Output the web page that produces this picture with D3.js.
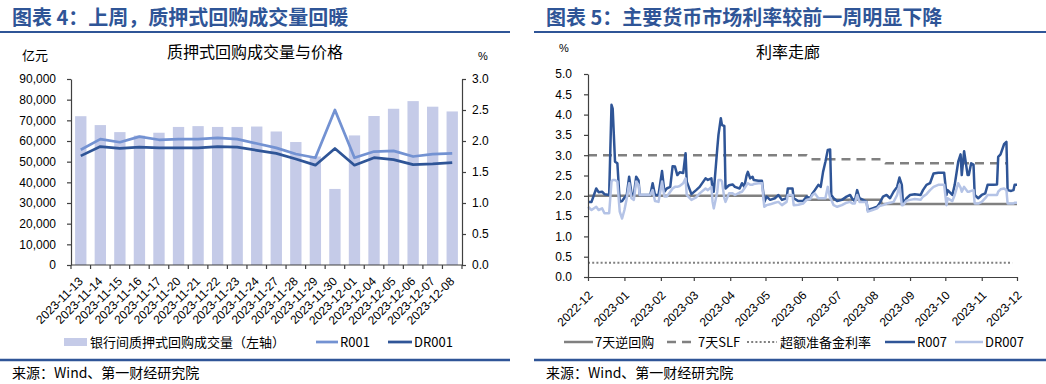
<!DOCTYPE html>
<html>
<head>
<meta charset="utf-8">
<title>质押式回购 / 利率走廊</title>
<script src="https://cdn.jsdelivr.net/npm/d3@7"></script>
<style>
	body { margin: 0; background: #fff; }
	text { font-family: "Liberation Sans", Arial, "Noto Sans CJK SC", sans-serif; fill: #000; }
	.cjk { font-family: "Noto Sans CJK SC", sans-serif; }
	.title { font-family: "Noto Sans CJK SC", sans-serif; font-weight: 700; font-size: 20px; fill: #2F5597; }
	.axis path, .axis line { stroke: #404040; stroke-width: 1.2; }
	.axis text { font-size: 12px; }
</style>
</head>
<body>
<div id="chartDiv"></div>
<script>
// ---- left chart: pledged repo volume & price ----
var volDates = ["2023-11-13", "2023-11-14", "2023-11-15", "2023-11-16", "2023-11-17",
	"2023-11-20", "2023-11-21", "2023-11-22", "2023-11-23", "2023-11-24",
	"2023-11-27", "2023-11-28", "2023-11-29", "2023-11-30", "2023-12-01",
	"2023-12-04", "2023-12-05", "2023-12-06", "2023-12-07", "2023-12-08"];
var volValues = [72000, 67700, 64300, 62600, 64000, 66800, 67200, 66800, 66800, 67000,
	64600, 59500, 52500, 36800, 62700, 72100, 75600, 79300, 76600, 74300];
var r001Values = [1.86, 2.03, 1.98, 2.07, 2.02, 2.03, 2.03, 2.05, 2.03, 1.96,
	1.89, 1.79, 1.73, 2.50, 1.73, 1.83, 1.84, 1.75, 1.79, 1.80];
var dr001Values = [1.76, 1.91, 1.88, 1.90, 1.89, 1.89, 1.89, 1.91, 1.90, 1.85,
	1.80, 1.71, 1.61, 1.88, 1.61, 1.73, 1.70, 1.62, 1.63, 1.65];
var volTicks = [0, 10000, 20000, 30000, 40000, 50000, 60000, 70000, 80000, 90000];
var priceTicks = [0, 0.5, 1.0, 1.5, 2.0, 2.5, 3.0];

// ---- right chart: rate corridor ----
var rateDates = [
	"2022-12-08", "2022-12-11", "2022-12-15", "2022-12-17", "2022-12-20", "2022-12-22", "2022-12-26", "2022-12-28", "2022-12-29", "2022-12-31",
	"2023-01-02", "2023-01-04", "2023-01-06", "2023-01-08", "2023-01-10", "2023-01-12", "2023-01-14", "2023-01-16", "2023-01-18", "2023-01-20",
	"2023-01-21", "2023-01-30", "2023-02-01", "2023-02-03", "2023-02-06", "2023-02-09", "2023-02-11", "2023-02-13", "2023-02-16", "2023-02-18",
	"2023-02-20", "2023-02-22", "2023-02-24", "2023-02-27", "2023-03-01", "2023-03-02", "2023-03-06", "2023-03-10", "2023-03-13", "2023-03-18",
	"2023-03-20", "2023-03-23", "2023-03-24", "2023-03-25", "2023-03-28", "2023-03-29", "2023-03-31", "2023-04-01", "2023-04-03", "2023-04-04",
	"2023-04-07", "2023-04-10", "2023-04-12", "2023-04-16", "2023-04-18", "2023-04-20", "2023-04-22", "2023-04-23", "2023-04-25", "2023-04-27",
	"2023-04-28", "2023-05-02", "2023-05-05", "2023-05-07", "2023-05-09", "2023-05-12", "2023-05-16", "2023-05-19", "2023-05-22", "2023-05-26",
	"2023-05-27", "2023-05-31", "2023-06-01", "2023-06-05", "2023-06-09", "2023-06-12", "2023-06-15", "2023-06-17", "2023-06-19", "2023-06-22",
	"2023-06-24", "2023-06-26", "2023-06-28", "2023-06-30", "2023-07-02", "2023-07-03", "2023-07-05", "2023-07-08", "2023-07-12", "2023-07-16",
	"2023-07-19", "2023-07-21", "2023-07-23", "2023-07-25", "2023-07-27", "2023-07-30", "2023-08-02", "2023-08-03", "2023-08-07", "2023-08-11",
	"2023-08-13", "2023-08-16", "2023-08-19", "2023-08-22", "2023-08-25", "2023-08-28", "2023-08-30", "2023-09-01", "2023-09-02", "2023-09-05",
	"2023-09-08", "2023-09-12", "2023-09-17", "2023-09-19", "2023-09-22", "2023-09-25", "2023-09-28", "2023-10-02", "2023-10-07", "2023-10-09",
	"2023-10-10", "2023-10-14", "2023-10-16", "2023-10-19", "2023-10-21", "2023-10-22", "2023-10-24", "2023-10-27", "2023-10-28", "2023-10-30",
	"2023-11-01", "2023-11-02", "2023-11-05", "2023-11-08", "2023-11-11", "2023-11-13", "2023-11-18", "2023-11-21", "2023-11-22", "2023-11-24",
	"2023-11-27", "2023-11-29", "2023-11-30", "2023-12-03", "2023-12-05", "2023-12-06", "2023-12-08"];
var r007Values = [
	1.85, 1.85, 2.18, 2.09, 2.10, 2.04, 2.02, 4.24, 4.15, 2.84,
	2.80, 1.85, 1.87, 1.95, 2.02, 2.47, 2.06, 2.02, 2.47, 2.38,
	2.02, 2.02, 2.31, 2.02, 2.02, 2.61, 2.10, 2.18, 2.22, 2.73,
	2.72, 2.51, 2.58, 2.56, 3.05, 2.35, 2.04, 2.14, 2.22, 2.43,
	2.39, 2.43, 2.14, 2.10, 3.17, 3.50, 3.91, 3.74, 3.72, 2.18,
	2.26, 2.28, 2.22, 2.18, 2.31, 2.22, 2.51, 2.59, 2.43, 2.47,
	2.39, 2.37, 2.37, 1.85, 1.98, 1.90, 1.94, 2.02, 1.90, 1.94,
	2.18, 2.18, 1.94, 1.87, 1.87, 1.98, 1.94, 2.06, 2.14, 2.27,
	2.22, 2.59, 2.84, 3.13, 3.14, 2.02, 1.94, 1.87, 1.90, 1.98,
	2.02, 1.92, 1.87, 2.14, 1.94, 1.90, 1.85, 1.65, 1.69, 1.73,
	1.81, 1.98, 2.02, 1.94, 2.10, 2.22, 2.45, 2.27, 1.81, 1.94,
	2.02, 2.04, 2.02, 2.14, 2.27, 2.31, 2.55, 2.57, 2.57, 2.02,
	2.14, 2.02, 2.27, 2.84, 3.02, 2.51, 3.10, 2.51, 2.51, 2.80,
	2.77, 2.02, 1.94, 2.02, 2.06, 2.27, 2.27, 2.28, 2.96, 3.02,
	3.27, 3.33, 2.14, 2.12, 2.14, 2.27, 2.27];
var dr007Values = [
	1.73, 1.65, 1.73, 1.65, 1.69, 1.57, 1.57, 2.35, 2.39, 2.39,
	2.35, 1.61, 1.44, 1.65, 1.94, 2.31, 1.94, 1.90, 2.35, 2.27,
	2.02, 2.02, 2.14, 1.87, 1.85, 2.35, 1.98, 1.98, 2.10, 2.18,
	2.22, 2.22, 2.24, 2.31, 2.43, 2.02, 1.90, 1.96, 2.06, 2.18,
	2.14, 2.22, 1.85, 1.69, 2.10, 2.39, 2.39, 2.35, 1.94, 1.85,
	2.06, 2.06, 2.02, 2.08, 2.10, 2.18, 2.27, 2.31, 2.27, 2.27,
	2.29, 2.31, 2.31, 1.73, 1.77, 1.79, 1.83, 1.85, 1.77, 1.85,
	2.02, 2.02, 1.77, 1.78, 1.81, 1.90, 1.92, 2.02, 2.06, 1.94,
	1.94, 1.94, 1.94, 2.22, 1.94, 1.90, 1.77, 1.73, 1.77, 1.83,
	1.85, 1.81, 1.81, 2.02, 1.85, 1.85, 1.85, 1.61, 1.65, 1.69,
	1.75, 1.77, 1.81, 1.83, 1.85, 2.02, 2.27, 1.77, 1.77, 1.88,
	1.90, 1.92, 1.90, 1.98, 2.04, 2.14, 2.22, 2.27, 2.27, 1.77,
	1.94, 1.87, 2.02, 2.31, 2.20, 2.10, 2.22, 2.10, 2.10, 2.12,
	2.14, 1.81, 1.81, 1.85, 1.94, 2.02, 2.02, 2.02, 2.10, 2.16,
	2.18, 2.14, 1.81, 1.81, 1.81, 1.83, 1.83];
var revRepoDates = ["2022-12-08", "2023-06-12", "2023-06-13", "2023-08-14", "2023-08-15", "2023-12-08"];
var revRepoValues = [2.0, 2.0, 1.9, 1.9, 1.8, 1.8];
var slfDates = ["2022-12-08", "2023-06-12", "2023-06-16", "2023-08-14", "2023-08-18", "2023-11-29"];
var slfValues = [3.0, 3.0, 2.9, 2.9, 2.8, 2.8];
var excessDates = ["2022-12-08", "2023-12-04"];
var excessValues = [0.35, 0.35];
var rateTicks = [0, 0.5, 1.0, 1.5, 2.0, 2.5, 3.0, 3.5, 4.0, 4.5, 5.0];

var colBar = "#C5CBE8";
var colR001 = "#7392D2";
var colDark = "#2F5597";
var colLight = "#B4C3E6";
var colGray = "#808080";
var colTitle = "#2F5597";

var svg;
var parseDate = d3.timeParse("%Y-%m-%d");

function init() {
	svg = d3.select("#chartDiv").append("svg")
		.attr("width", 1046)
		.attr("height", 384)
	;
	svg.append("rect").attr("width", 1046).attr("height", 384).attr("fill", "#fff");

	drawFrame(0, 510, "图表 4：上周，质押式回购成交量回暖", 12);
	drawFrame(534, 1046, "图表 5：主要货币市场利率较前一周明显下降", 546);

	drawVolumeChart();
	drawRateChart();
}

// title, two blue rules and source line
function drawFrame(x0, x1, title, tx) {
	svg.append("text")
		.attr("class", "title")
		.attr("x", tx)
		.attr("y", 25)
		.text(title)
	;
	svg.append("line")
		.attr("x1", x0).attr("x2", x1)
		.attr("y1", 32).attr("y2", 32)
		.attr("stroke", colTitle).attr("stroke-width", 2)
	;
	svg.append("line")
		.attr("x1", x0).attr("x2", x1)
		.attr("y1", 360).attr("y2", 360)
		.attr("stroke", colTitle).attr("stroke-width", 2.5)
	;
	svg.append("text")
		.attr("class", "cjk")
		.attr("x", tx)
		.attr("y", 378)
		.style("font-size", "14px")
		.text("来源：Wind、第一财经研究院")
	;
}

function drawVolumeChart() {
	var left = 71, right = 462, top = 79, bottom = 265;

	var x = d3.scaleBand()
		.domain(volDates)
		.range([left, right])
		.paddingInner(0.42)
		.paddingOuter(0.21)
	;
	var yL = d3.scaleLinear().domain([0, 90000]).range([bottom, top]);
	var yR = d3.scaleLinear().domain([0, 3]).range([bottom, top]);

	svg.append("text").attr("class", "cjk")
		.attr("x", 255).attr("y", 58)
		.attr("text-anchor", "middle")
		.style("font-size", "16px")
		.text("质押式回购成交量与价格");
	svg.append("text").attr("class", "cjk")
		.attr("x", 22).attr("y", 60)
		.style("font-size", "13px")
		.text("亿元");
	svg.append("text")
		.attr("x", 478).attr("y", 60)
		.style("font-size", "11px")
		.text("%");

	// bars
	svg.append("g").selectAll("rect")
		.data(volValues).enter().append("rect")
		.attr("x", function (d, i) { return x(volDates[i]); })
		.attr("y", function (d) { return yL(d); })
		.attr("width", x.bandwidth())
		.attr("height", function (d) { return bottom - yL(d); })
		.attr("fill", colBar)
	;

	var line = d3.line()
		.x(function (d, i) { return x(volDates[i]) + x.bandwidth() / 2; })
		.y(function (d) { return yR(d); })
	;
	svg.append("path").datum(r001Values)
		.attr("d", line)
		.attr("fill", "none").attr("stroke", colR001).attr("stroke-width", 2.75)
		.attr("stroke-linejoin", "round");
	svg.append("path").datum(dr001Values)
		.attr("d", line)
		.attr("fill", "none").attr("stroke", colDark).attr("stroke-width", 2.75)
		.attr("stroke-linejoin", "round");

	// axes
	svg.append("g").attr("class", "axis")
		.attr("transform", "translate(" + left + ",0)")
		.call(d3.axisLeft(yL).tickValues(volTicks).tickFormat(d3.format(",")).tickSize(4).tickSizeOuter(0).tickPadding(11));
	svg.append("g").attr("class", "axis")
		.attr("transform", "translate(" + right + ",0)")
		.call(d3.axisRight(yR).tickValues(priceTicks).tickFormat(d3.format(".1f")).tickSize(4).tickSizeOuter(0).tickPadding(6));

	var xAxis = svg.append("g").attr("class", "axis");
	xAxis.append("line")
		.attr("x1", left).attr("x2", right)
		.attr("y1", bottom).attr("y2", bottom);
	xAxis.selectAll("line.tk")
		.data(d3.range(volDates.length + 1)).enter().append("line")
		.attr("class", "tk")
		.attr("x1", function (i) { return left + i * x.step(); })
		.attr("x2", function (i) { return left + i * x.step(); })
		.attr("y1", bottom).attr("y2", bottom + 4);
	xAxis.selectAll("text")
		.data(volDates).enter().append("text")
		.attr("text-anchor", "end")
		.attr("transform", function (d) {
			return "translate(" + (x(d) + x.bandwidth() / 2 + 3) + "," + (bottom + 17) + ") rotate(-45)";
		})
		.text(function (d) { return d; });

	// legend
	var ly = 342;
	svg.append("rect").attr("x", 64).attr("y", ly - 4).attr("width", 23).attr("height", 8).attr("fill", colBar);
	legendText(90, ly, "银行间质押式回购成交量（左轴）");
	legendLine(316, 338, ly, colR001, null, 2.75);
	legendText(340, ly, "R001");
	legendLine(388, 412, ly, colDark, null, 2.75);
	legendText(414, ly, "DR001");
}

function drawRateChart() {
	var left = 588, right = 1017, top = 74, bottom = 277;
	var start = parseDate("2022-12-08");

	var x = d3.scaleTime().domain([start, parseDate("2023-12-08")]).range([left, right]);
	var y = d3.scaleLinear().domain([0, 5]).range([bottom, top]);

	svg.append("text").attr("class", "cjk")
		.attr("x", 788).attr("y", 58)
		.attr("text-anchor", "middle")
		.style("font-size", "16px")
		.text("利率走廊");
	svg.append("text")
		.attr("x", 559).attr("y", 52)
		.style("font-size", "11px")
		.text("%");

	var line = function (dates) {
		return d3.line()
			.x(function (d, i) { return x(parseDate(dates[i])); })
			.y(function (d) { return y(d); });
	};

	svg.append("path").datum(revRepoValues)
		.attr("d", line(revRepoDates))
		.attr("fill", "none").attr("stroke", colGray).attr("stroke-width", 2.5);
	svg.append("path").datum(slfValues)
		.attr("d", line(slfDates))
		.attr("fill", "none").attr("stroke", colGray).attr("stroke-width", 2.5)
		.attr("stroke-dasharray", "9,6");
	svg.append("path").datum(excessValues)
		.attr("d", line(excessDates))
		.attr("fill", "none").attr("stroke", colGray).attr("stroke-width", 2)
		.attr("stroke-dasharray", "2,2.2");
	svg.append("path").datum(r007Values)
		.attr("d", line(rateDates))
		.attr("fill", "none").attr("stroke", colDark).attr("stroke-width", 2.5)
		.attr("stroke-linejoin", "round");
	svg.append("path").datum(dr007Values)
		.attr("d", line(rateDates))
		.attr("fill", "none").attr("stroke", colLight).attr("stroke-width", 2.5)
		.attr("stroke-linejoin", "round");

	svg.append("g").attr("class", "axis")
		.attr("transform", "translate(" + left + ",0)")
		.call(d3.axisLeft(y).tickValues(rateTicks).tickFormat(d3.format(".1f")).tickSize(4).tickSizeOuter(0).tickPadding(12));

	var monthTicks = d3.range(13).map(function (i) { return d3.timeMonth.offset(start, i); });
	var xAxis = svg.append("g").attr("class", "axis")
		.attr("transform", "translate(0," + bottom + ")")
		.call(d3.axisBottom(x).tickValues(monthTicks).tickFormat(d3.timeFormat("%Y-%m")).tickSize(4).tickSizeOuter(0));
	xAxis.selectAll(".tick text")
		.attr("text-anchor", "end")
		.attr("x", 0).attr("y", 0).attr("dy", 0)
		.attr("transform", "translate(5,19) rotate(-45)");

	var ly = 342;
	legendLine(564, 593, ly, colGray, null, 2.5);
	legendText(595, ly, "7天逆回购");
	legendLine(667, 694, ly, colGray, "9,6", 2.5);
	legendText(698, ly, "7天SLF");
	legendLine(747, 777, ly, colGray, "2,2.2", 2);
	legendText(780, ly, "超额准备金利率");
	legendLine(885, 915, ly, colDark, null, 2.5);
	legendText(917, ly, "R007");
	legendLine(955, 983, ly, colLight, null, 2.5);
	legendText(985, ly, "DR007");
}

function legendLine(x1, x2, yy, col, dash, w) {
	svg.append("line")
		.attr("x1", x1).attr("x2", x2)
		.attr("y1", yy).attr("y2", yy)
		.attr("stroke", col).attr("stroke-width", w)
		.attr("stroke-dasharray", dash)
	;
}

function legendText(xx, yy, s) {
	svg.append("text")
		.attr("class", "cjk")
		.attr("x", xx).attr("y", yy)
		.attr("dy", "0.35em")
		.style("font-size", "13px")
		.text(s)
	;
}

init();
</script>
</body>
</html>
